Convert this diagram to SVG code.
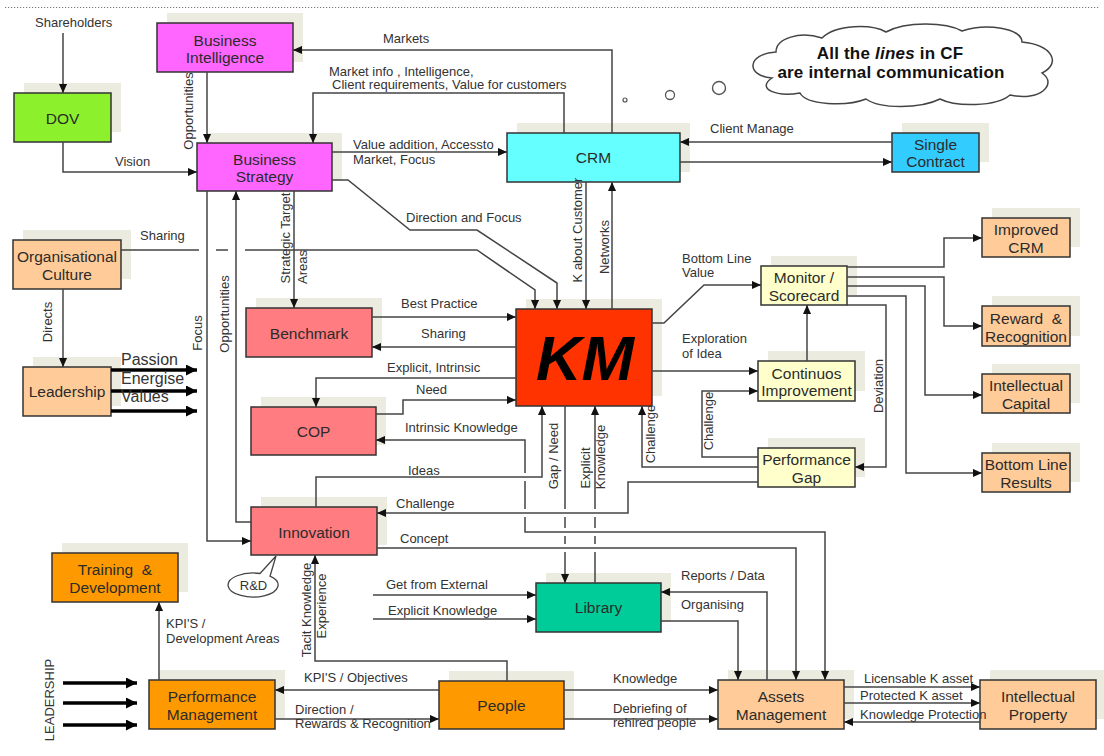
<svg xmlns="http://www.w3.org/2000/svg" width="1104" height="756" viewBox="0 0 1104 756">
<defs>
<marker id="arr" viewBox="0 0 10 10" refX="10" refY="5" markerWidth="9" markerHeight="9" markerUnits="userSpaceOnUse" orient="auto-start-reverse"><path d="M0,0.5 L10,5 L0,9.5 Z" fill="#111"/></marker>
<marker id="arrB" viewBox="0 0 10 10" refX="10" refY="5" markerWidth="11" markerHeight="11" markerUnits="userSpaceOnUse" orient="auto"><path d="M0,0 L10,5 L0,10 Z" fill="#000"/></marker>
<style>
.sh{fill:#ECEBDF}
.bx{stroke:#333;stroke-width:1.5}
.mag{fill:#FF66FF}
.grn{fill:#8CF02C}
.cyn{fill:#66FFFF}
.blu{fill:#33CCFF}
.pch{fill:#FFCC99}
.sal{fill:#FF7C80}
.red{fill:#FF3300}
.yel{fill:#FFFFCC}
.teal{fill:#00CC99}
.org{fill:#FF9900}
text{font-family:"Liberation Sans",Arial,sans-serif}
.nt{font-size:15.5px;fill:#2b2b2b;text-anchor:middle}
.lb{font-size:13px;fill:#333}
.rl{font-size:13px;fill:#333;text-anchor:middle}
.big{font-size:16px;fill:#333}
.ln{fill:none;stroke:#444;stroke-width:1.5;marker-end:url(#arr)}
.pl{fill:none;stroke:#444;stroke-width:1.5}
.tk{fill:none;stroke:#000;stroke-width:3.5;marker-end:url(#arrB)}
</style>
</defs>
<rect width="1104" height="756" fill="#fff"/>
<line x1="5" y1="7.5" x2="1100" y2="7.5" stroke="#777" stroke-width="1" stroke-dasharray="1.2 1.8"/>

<!-- nodes -->
<g id="nodes">
<g id="node-bi"><rect class="sh" x="167" y="13" width="136" height="49"/><rect class="bx mag" x="157" y="23" width="136" height="49"/><text class="nt" x="225" y="45.5">Business</text><text class="nt" x="225" y="63">Intelligence</text></g>
<g id="node-dov"><rect class="sh" x="24" y="83" width="97" height="49"/><rect class="bx grn" x="14" y="93" width="97" height="49"/><text class="nt" x="62.5" y="124">DOV</text></g>
<g id="node-bs"><rect class="sh" x="207" y="133" width="135" height="48"/><rect class="bx mag" x="197" y="143" width="135" height="48"/><text class="nt" x="264.5" y="165">Business</text><text class="nt" x="264.5" y="182">Strategy</text></g>
<g id="node-crm"><rect class="sh" x="517" y="123" width="173" height="49"/><rect class="bx cyn" x="507" y="133" width="173" height="49"/><text class="nt" x="593.5" y="163">CRM</text></g>
<g id="node-sc"><rect class="sh" x="902" y="123" width="87" height="39"/><rect class="bx blu" x="892" y="133" width="87" height="39"/><text class="nt" x="935.5" y="149.5">Single</text><text class="nt" x="935.5" y="167">Contract</text></g>
<g id="node-oc"><rect class="sh" x="23" y="230" width="108" height="49"/><rect class="bx pch" x="13" y="240" width="108" height="49"/><text class="nt" x="67" y="262">Organisational</text><text class="nt" x="67" y="279.5">Culture</text></g>
<g id="node-lead"><rect class="sh" x="33" y="357" width="88" height="49"/><rect class="bx pch" x="23" y="367" width="88" height="49"/><text class="nt" x="67" y="397">Leadership</text></g>
<g id="node-bench"><rect class="sh" x="256" y="298" width="126" height="49"/><rect class="bx sal" x="246" y="308" width="126" height="49"/><text class="nt" x="309" y="339">Benchmark</text></g>
<g id="node-km"><rect class="sh" x="526" y="299" width="136" height="97"/><rect class="bx red" x="516" y="309" width="136" height="97"/><text x="585" y="380" font-size="63" font-weight="bold" font-style="italic" fill="#000" text-anchor="middle">KM</text></g>
<g id="node-cop"><rect class="sh" x="261" y="397" width="125" height="48"/><rect class="bx sal" x="251" y="407" width="125" height="48"/><text class="nt" x="313.5" y="437">COP</text></g>
<g id="node-innov"><rect class="sh" x="261" y="497" width="126" height="48"/><rect class="bx sal" x="251" y="507" width="126" height="48"/><text class="nt" x="314" y="537.5">Innovation</text></g>
<g id="node-mon"><rect class="sh" x="771" y="256" width="86" height="39"/><rect class="bx yel" x="761" y="266" width="86" height="39"/><text class="nt" x="804" y="283">Monitor /</text><text class="nt" x="804" y="300.5">Scorecard</text></g>
<g id="node-ci"><rect class="sh" x="768" y="351" width="97" height="40"/><rect class="bx yel" x="758" y="361" width="97" height="40"/><text class="nt" x="806.5" y="378.5">Continuos</text><text class="nt" x="806.5" y="396">Improvement</text></g>
<g id="node-pg"><rect class="sh" x="768" y="438" width="97" height="39"/><rect class="bx yel" x="758" y="448" width="97" height="39"/><text class="nt" x="806.5" y="465">Performance</text><text class="nt" x="806.5" y="482.5">Gap</text></g>
<g id="node-icrm"><rect class="sh" x="992" y="208" width="88" height="39"/><rect class="bx pch" x="982" y="218" width="88" height="39"/><text class="nt" x="1026" y="235">Improved</text><text class="nt" x="1026" y="252.5">CRM</text></g>
<g id="node-rr"><rect class="sh" x="992" y="296" width="88" height="40"/><rect class="bx pch" x="982" y="306" width="88" height="40"/><text class="nt" x="1026" y="323.5" xml:space="preserve">Reward  &amp;</text><text class="nt" x="1026" y="341.5">Recognition</text></g>
<g id="node-ic"><rect class="sh" x="992" y="364" width="88" height="39"/><rect class="bx pch" x="982" y="374" width="88" height="39"/><text class="nt" x="1026" y="391">Intellectual</text><text class="nt" x="1026" y="408.5">Capital</text></g>
<g id="node-blr"><rect class="sh" x="992" y="443" width="88" height="39"/><rect class="bx pch" x="982" y="453" width="88" height="39"/><text class="nt" x="1026" y="470">Bottom Line</text><text class="nt" x="1026" y="487.5">Results</text></g>
<g id="node-td"><rect class="sh" x="62" y="543" width="126" height="49"/><rect class="bx org" x="52" y="553" width="126" height="49"/><text class="nt" x="115" y="575" xml:space="preserve">Training  &amp;</text><text class="nt" x="115" y="593">Development</text></g>
<g id="node-pm"><rect class="sh" x="159" y="670" width="126" height="49"/><rect class="bx org" x="149" y="680" width="126" height="49"/><text class="nt" x="212" y="702">Performance</text><text class="nt" x="212" y="720">Management</text></g>
<g id="node-people"><rect class="sh" x="449" y="671" width="125" height="48"/><rect class="bx org" x="439" y="681" width="125" height="48"/><text class="nt" x="501.5" y="710.5">People</text></g>
<g id="node-lib"><rect class="sh" x="546" y="573" width="125" height="49"/><rect class="bx teal" x="536" y="583" width="125" height="49"/><text class="nt" x="598.5" y="613">Library</text></g>
<g id="node-am"><rect class="sh" x="728" y="670" width="126" height="49"/><rect class="bx pch" x="718" y="680" width="126" height="49"/><text class="nt" x="781" y="702">Assets</text><text class="nt" x="781" y="720">Management</text></g>
<g id="node-ip"><rect class="sh" x="990" y="670" width="116" height="49"/><rect class="bx pch" x="980" y="680" width="116" height="49"/><text class="nt" x="1038" y="702">Intellectual</text><text class="nt" x="1038" y="720">Property</text></g>
<g id="node-rd"><path d="M270,576.2 L276,556 L260,573.5 A25,12 0 1 0 270,576.2 Z" fill="#fff" stroke="#444" stroke-width="1.3"/><text x="253.5" y="590" font-size="13" fill="#333" text-anchor="middle">R&amp;D</text></g>
</g>

<!-- note cloud -->
<g id="note">
<circle cx="625" cy="100" r="2" fill="#fff" stroke="#555" stroke-width="1.2"/>
<circle cx="670" cy="95" r="4.5" fill="#fff" stroke="#555" stroke-width="1.3"/>
<circle cx="719" cy="88" r="6.5" fill="#fff" stroke="#555" stroke-width="1.4"/>
<path d="M772,78 C746,76 746,54 776,52 C776,38 800,31 822,38 C836,24 872,24 886,32 C906,21 946,22 962,31 C986,23 1022,28 1022,42 C1052,45 1062,63 1042,73 C1058,84 1040,102 1010,95 C996,107 956,107 940,99 C920,109 880,109 866,99 C846,107 806,105 800,93 C776,97 756,89 772,78 Z" fill="#fff" stroke="#444" stroke-width="1.5"/>
<text x="890" y="59" font-size="17" font-weight="bold" fill="#111" text-anchor="middle" letter-spacing="0.2">All the <tspan font-style="italic">lines</tspan> in CF</text>
<text x="891" y="78" font-size="17" font-weight="bold" fill="#111" text-anchor="middle" letter-spacing="0.2">are internal communication</text>
</g>

<!-- connectors -->
<g id="connectors">
<path class="ln" d="M63,33 V93"/>
<path class="ln" d="M63,142 V172 H197"/>
<path class="ln" d="M207,72 V143"/>
<path class="ln" d="M612,133 V50 H293"/>
<path class="ln" d="M564,133 V93 H313 V143"/>
<path class="ln" d="M332,152 H507"/>
<path class="ln" d="M892,142 H680"/>
<path class="ln" d="M680,162 H892"/>
<path class="ln" d="M121,250 H199 M216,250 H228 M245,250 H477 L535,290 V309"/>
<path class="ln" d="M332,180 H348 L410,230 H477 L557,283 V309"/>
<path class="ln" d="M294,191 V308"/>
<path class="ln" d="M207,191 V541 H251"/>
<path class="ln" d="M251,522 H236 V191"/>
<path class="ln" d="M586,182 V309"/>
<path class="ln" d="M612,309 V182"/>
<path class="ln" d="M63,289 V367"/>
<path class="tk" d="M111,370 H197"/>
<path class="tk" d="M111,391 H197"/>
<path class="tk" d="M111,411 H197"/>
<path class="ln" d="M372,317 H516"/>
<path class="ln" d="M516,347 H372"/>
<path class="ln" d="M516,378 H316 V407"/>
<path class="ln" d="M376,414 H403 V400 H516"/>
<path class="ln" style="marker-start:url(#arr)" d="M376,440 H525 V473 M525,481 V509 M525,517 V532 H825 V680"/>
<path class="ln" d="M316,507 V477 H542 V406"/>
<path class="ln" d="M565,406 V509 M565,517 V528 M565,536 V544 M565,552 V583"/>
<path class="ln" d="M595,583 V552 M595,544 V536 M595,528 V517 M595,509 V406"/>
<path class="ln" d="M758,467 H642 V406"/>
<path class="ln" d="M758,457 H702 V391 H758"/>
<path class="ln" d="M758,482 H628 V513 H377"/>
<path class="ln" d="M652,371 H758"/>
<path class="ln" d="M652,323 H664 L704,285 H761"/>
<path class="ln" d="M807,361 V305"/>
<path class="ln" d="M847,267 H944 V238 H982"/>
<path class="ln" d="M847,277 H944 V326 H982"/>
<path class="ln" d="M847,286 H925 V395 H982"/>
<path class="ln" d="M847,296 H906 V473 H982"/>
<path class="ln" d="M847,305 H886 V467 H855"/>
<path class="ln" d="M377,548 H796 V680"/>
<path class="ln" d="M507,681 V661 H315 V555"/>
<path class="ln" d="M439,690 H275"/>
<path class="ln" d="M275,719 H439"/>
<path class="ln" d="M159,680 V602"/>
<path class="tk" d="M63,683 H137"/>
<path class="tk" d="M63,703 H137"/>
<path class="tk" d="M63,725 H137"/>
<path class="ln" d="M373,595 H536"/>
<path class="ln" d="M373,619 H536"/>
<path class="ln" d="M767,680 V592 H661"/>
<path class="ln" d="M661,621 H738 V680"/>
<path class="ln" d="M564,690 H718"/>
<path class="ln" d="M564,719 H718"/>
<path class="ln" d="M844,687 H980"/>
<path class="ln" d="M844,703 H980"/>
<path class="ln" d="M980,722 H844"/>
</g>

<!-- connector labels -->
<g id="labels">
<text class="lb" x="35" y="27">Shareholders</text>
<text class="lb" x="115" y="166">Vision</text>
<text class="lb" x="383" y="43">Markets</text>
<text class="lb" x="329" y="76">Market info , Intelligence,</text>
<text class="lb" x="332" y="89">Client requirements, Value for customers</text>
<text class="lb" x="353" y="149">Value addition, Accessto</text>
<text class="lb" x="353" y="164">Market, Focus</text>
<text class="lb" x="710" y="133">Client Manage</text>
<text class="lb" x="406" y="222">Direction and Focus</text>
<text class="lb" x="140" y="240">Sharing</text>
<text class="lb" x="401" y="308">Best Practice</text>
<text class="lb" x="421" y="338">Sharing</text>
<text class="lb" x="387" y="372">Explicit, Intrinsic</text>
<text class="lb" x="416" y="394">Need</text>
<text class="lb" x="405" y="432">Intrinsic Knowledge</text>
<text class="lb" x="408" y="475">Ideas</text>
<text class="lb" x="396" y="508">Challenge</text>
<text class="lb" x="400" y="543">Concept</text>
<text class="lb" x="682" y="263">Bottom Line</text>
<text class="lb" x="682" y="277">Value</text>
<text class="lb" x="682" y="343">Exploration</text>
<text class="lb" x="682" y="358">of Idea</text>
<text class="lb" x="386" y="589">Get from External</text>
<text class="lb" x="388" y="615">Explicit Knowledge</text>
<text class="lb" x="681" y="580">Reports / Data</text>
<text class="lb" x="681" y="609">Organising</text>
<text class="lb" x="613" y="683">Knowledge</text>
<text class="lb" x="613" y="713">Debriefing of</text>
<text class="lb" x="613" y="727">rehired people</text>
<text class="lb" x="304" y="682">KPI'S / Objectives</text>
<text class="lb" x="295" y="714">Direction /</text>
<text class="lb" x="295" y="728">Rewards &amp; Recognition</text>
<text class="lb" x="166" y="628">KPI'S /</text>
<text class="lb" x="166" y="643">Development Areas</text>
<text class="lb" x="864" y="683">Licensable K asset</text>
<text class="lb" x="860" y="700">Protected K asset</text>
<text class="lb" x="860" y="719">Knowledge Protection</text>
<text class="big" x="121" y="365">Passion</text>
<text class="big" x="121" y="384">Energise</text>
<text class="big" x="121" y="402">Values</text>
<text class="rl" transform="translate(193,111) rotate(-90)">Opportunities</text>
<text class="rl" transform="translate(202,333) rotate(-90)">Focus</text>
<text class="rl" transform="translate(229,314) rotate(-90)">Opportunities</text>
<text class="rl" transform="translate(52,322) rotate(-90)">Directs</text>
<text class="rl" transform="translate(290,238) rotate(-90)">Strategic Target</text>
<text class="rl" transform="translate(307,267) rotate(-90)">Areas</text>
<text class="rl" transform="translate(582,230) rotate(-90)">K about Customer</text>
<text class="rl" transform="translate(609,247) rotate(-90)">Networks</text>
<text class="rl" transform="translate(558,456) rotate(-90)">Gap / Need</text>
<text class="rl" transform="translate(590,468) rotate(-90)">Explicit</text>
<text class="rl" transform="translate(605,457) rotate(-90)">Knowledge</text>
<text class="rl" transform="translate(655,434) rotate(-90)">Challenge</text>
<text class="rl" transform="translate(713,421) rotate(-90)">Challenge</text>
<text class="rl" transform="translate(883,386) rotate(-90)">Deviation</text>
<text class="rl" transform="translate(311,610) rotate(-90)">Tacit Knowledge</text>
<text class="rl" transform="translate(326,606) rotate(-90)">Experience</text>
<text class="rl" transform="translate(54,700) rotate(-90)">LEADERSHIP</text>
</g>
</svg>
